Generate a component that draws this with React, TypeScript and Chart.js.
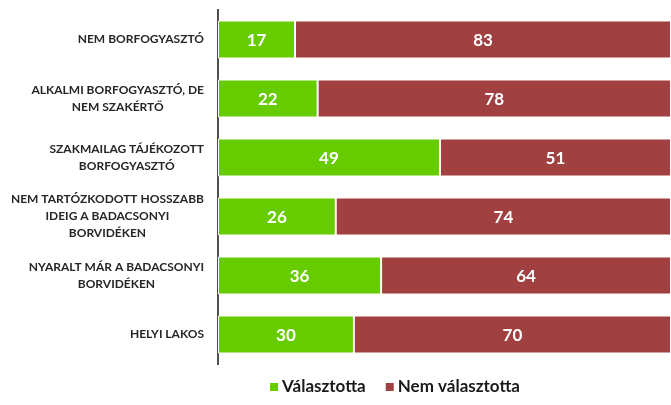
import React, { useEffect, useRef } from "react";
import { Chart, registerables } from "chart.js";

Chart.register(...registerables);

const categories: string[][] = [
  ["NEM BORFOGYASZTÓ"],
  ["ALKALMI BORFOGYASZTÓ, DE", "NEM SZAKÉRTŐ"],
  ["SZAKMAILAG TÁJÉKOZOTT", "BORFOGYASZTÓ"],
  ["NEM TARTÓZKODOTT HOSSZABB", "IDEIG A BADACSONYI", "BORVIDÉKEN"],
  ["NYARALT MÁR A BADACSONYI", "BORVIDÉKEN"],
  ["HELYI LAKOS"],
];
const chosen = [17, 22, 49, 26, 36, 30];
const notChosen = [83, 78, 51, 74, 64, 70];
const seriesNames = ["Választotta", "Nem választotta"];
const colors = ["#66CC00", "#A04040"];

const FONT = "Lato, 'Open Sans', sans-serif";

const categoryLabelPlugin = {
  id: "categoryLabels",
  afterDraw(chart: any) {
    const ctx = chart.ctx;
    const yScale = chart.scales.y;
    const rightEdge = yScale.right - 14;
    const lineH = 17;
    ctx.save();
    ctx.font = `bold 12px ${FONT}`;
    ctx.fillStyle = "#262626";
    ctx.textAlign = "center";
    ctx.textBaseline = "middle";
    (chart.data.labels as string[][]).forEach((lines, i) => {
      const yc = yScale.getPixelForValue(i);
      const maxW = Math.max(...lines.map((l) => ctx.measureText(l).width));
      const cx = rightEdge - maxW / 2;
      const y0 = yc - ((lines.length - 1) * lineH) / 2;
      lines.forEach((l, k) => ctx.fillText(l, cx, y0 + k * lineH));
    });
    ctx.restore();
  },
};

const dataLabelPlugin = {
  id: "dataLabels",
  afterDatasetsDraw(chart: any) {
    const ctx = chart.ctx;
    ctx.save();
    ctx.fillStyle = "#ffffff";
    ctx.font = `bold 17px ${FONT}`;
    ctx.textAlign = "center";
    ctx.textBaseline = "middle";
    chart.data.datasets.forEach((ds: any, di: number) => {
      const meta = chart.getDatasetMeta(di);
      meta.data.forEach((el: any, i: number) => {
        const cx = (el.x + el.base) / 2;
        ctx.fillText(String(ds.data[i]), cx, el.y + 1);
      });
    });
    ctx.restore();
  },
};

const legendPlugin = {
  id: "customLegend",
  afterDraw(chart: any) {
    const ctx = chart.ctx;
    ctx.save();
    ctx.font = `bold 17px ${FONT}`;
    ctx.textBaseline = "middle";
    const box = 8;
    const gapBoxText = 4;
    const gapItems = 20;
    const items = chart.data.datasets.map((ds: any) => ({
      label: ds.label,
      color: ds.backgroundColor,
      w: box + gapBoxText + ctx.measureText(ds.label).width,
    }));
    const total = items.reduce((s: number, it: any) => s + it.w, 0) + gapItems * (items.length - 1);
    const centerX = 395;
    const y = 387;
    let x = centerX - total / 2;
    items.forEach((it: any) => {
      ctx.fillStyle = it.color;
      ctx.fillRect(x, y - box / 2, box, box);
      ctx.fillStyle = "#1a1a1a";
      ctx.textAlign = "left";
      ctx.fillText(it.label, x + box + gapBoxText, y);
      x += it.w + gapItems;
    });
    ctx.restore();
  },
};

export default function App() {
  const ref = useRef<HTMLCanvasElement>(null);
  useEffect(() => {
    if (!ref.current) return;
    const chart = new Chart(ref.current, {
      type: "bar",
      data: {
        labels: categories,
        datasets: [
          {
            label: seriesNames[0],
            data: chosen,
            backgroundColor: colors[0],
            borderColor: "#ffffff",
            borderWidth: 1,
            borderSkipped: false,
            barPercentage: 0.644,
            categoryPercentage: 1,
          },
          {
            label: seriesNames[1],
            data: notChosen,
            backgroundColor: colors[1],
            borderColor: "#ffffff",
            borderWidth: 1,
            borderSkipped: false,
            barPercentage: 0.644,
            categoryPercentage: 1,
          },
        ],
      },
      options: {
        indexAxis: "y",
        responsive: false,
        animation: false,
        layout: { padding: { top: 10, bottom: 41, right: 0, left: 0 } },
        scales: {
          x: {
            stacked: true,
            min: 0,
            max: 100,
            display: false,
          },
          y: {
            stacked: true,
            grid: { display: false, drawTicks: false },
            border: { display: true, color: "#505050", width: 2 },
            ticks: { display: false },
            afterFit(scale: any) {
              scale.width = 218;
            },
          },
        },
        plugins: {
          legend: { display: false },
          tooltip: { enabled: false },
        },
      },
      plugins: [categoryLabelPlugin, dataLabelPlugin, legendPlugin],
    });
    return () => chart.destroy();
  }, []);
  return (
    <div style={{ position: "fixed", left: 0, top: 0, width: 671, height: 405, background: "#fff" }}>
      <canvas ref={ref} width={671} height={405} style={{ width: 671, height: 405 }} />
    </div>
  );
}
